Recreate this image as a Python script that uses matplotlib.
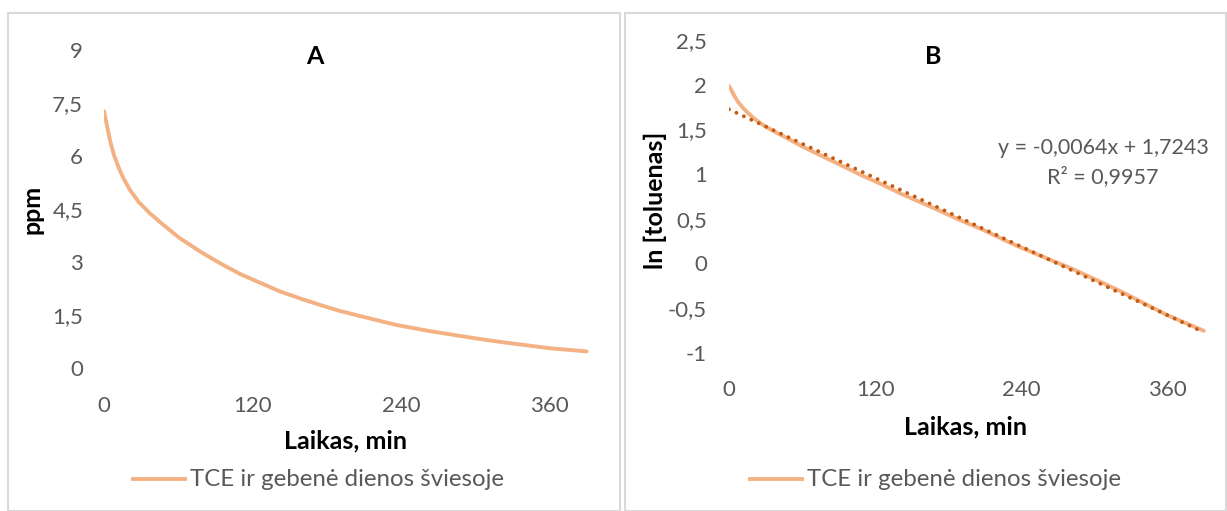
import numpy as np
import matplotlib
matplotlib.use("Agg")
import matplotlib.pyplot as plt
from matplotlib.patches import Rectangle
from matplotlib.ticker import FuncFormatter

# ---- data ----
time_min = [0, 2, 5, 8, 12, 16, 21, 28, 37, 48, 61, 78, 94, 110, 125, 142,
            160, 175, 190, 207, 236, 264, 282, 300, 322, 360, 390]
ppm = [7.27, 6.93, 6.42, 6.03, 5.66, 5.35, 5.04, 4.70, 4.38, 4.05, 3.68,
       3.29, 2.96, 2.66, 2.43, 2.17, 1.95, 1.78, 1.62, 1.47, 1.22, 1.04,
       0.94, 0.84, 0.73, 0.56, 0.47]
ln_toluene = list(np.log(ppm))
trend_slope = -0.0064
trend_intercept = 1.7243
trend_r2 = 0.9957

xticks = [0, 120, 240, 360]
yticks_a = [0, 1.5, 3, 4.5, 6, 7.5, 9]
yticks_b = [-1, -0.5, 0, 0.5, 1, 1.5, 2, 2.5]
series_name = "TCE ir gebenė dienos šviesoje"

W, H = 1227, 511
fig = plt.figure(figsize=(W / 100, H / 100), dpi=100)
plt.rcParams['font.family'] = ['Lato', 'DejaVu Sans']

CURVE = '#F4B183'
TREND = '#C55A11'
TICKC = '#595959'
TICK_FS = 16
LAB_FS = 18
LEG_FS = 17.3
EQ_FS = 15.5


def comma(v, pos):
    return ('%g' % v).replace('.', ',')


def px(x0, y0_top, w, h):
    return [x0 / W, (H - y0_top - h) / H, w / W, h / H]


# panel borders
for (x0, x1) in [(8, 620), (625, 1226)]:
    fig.patches.append(Rectangle((x0 / W, 0), (x1 - x0) / W, (H - 13) / H,
                                 transform=fig.transFigure, fill=False,
                                 edgecolor='#D9D9D9', lw=1.5))

# ---- Panel A ----
axA = fig.add_axes(px(104, 50, 495, 318))
axA.plot(time_min, ppm, color=CURVE, lw=2.8, solid_capstyle='round',
         solid_joinstyle='round')
axA.set_xlim(0, 400)
axA.set_ylim(0, 9)
axA.set_xticks(xticks)
axA.set_yticks(yticks_a)
axA.yaxis.set_major_formatter(FuncFormatter(comma))
for s in axA.spines.values():
    s.set_visible(False)
axA.tick_params(axis='both', length=0, labelsize=TICK_FS, colors=TICKC)
axA.tick_params(axis='y', pad=15)
axA.tick_params(axis='x', pad=20)
fig.text(315 / W, 1 - 57 / H, 'A', ha='center', va='center', fontsize=LAB_FS,
         fontweight='bold')
fig.text(345 / W, 1 - 441 / H, 'Laikas, min', ha='center', va='center',
         fontsize=LAB_FS, fontweight='bold')
fig.text(32 / W, 1 - 209 / H, 'ppm', ha='center', va='center', rotation=90,
         fontsize=LAB_FS, fontweight='bold')
fig.lines.append(plt.Line2D([133 / W, 185 / W], [1 - 479 / H] * 2,
                            transform=fig.transFigure, color=CURVE, lw=2.8))
fig.text(190 / W, 1 - 479 / H, series_name, ha='left', va='center',
         fontsize=LEG_FS, color=TICKC)

# ---- Panel B ----
axB = fig.add_axes(px(729, 40, 487, 312.7))
axB.plot(time_min, ln_toluene, color=CURVE, lw=2.8, solid_capstyle='round',
         solid_joinstyle='round')
tx = np.array([time_min[0], time_min[-1]])
axB.plot(tx, trend_slope * tx + trend_intercept, color=TREND, lw=2.8,
         linestyle=(0, (0.01, 2.1)), dash_capstyle='round')
axB.set_xlim(0, 400)
axB.set_ylim(-1, 2.5)
axB.set_xticks(xticks)
axB.set_yticks(yticks_b)
axB.yaxis.set_major_formatter(FuncFormatter(comma))
for s in axB.spines.values():
    s.set_visible(False)
axB.tick_params(axis='both', length=0, labelsize=TICK_FS, colors=TICKC)
axB.tick_params(axis='y', pad=16)
axB.tick_params(axis='x', pad=20)
fig.text(933 / W, 1 - 57 / H, 'B', ha='center', va='center', fontsize=LAB_FS,
         fontweight='bold')
fig.text(966 / W, 1 - 427 / H, 'Laikas, min', ha='center', va='center',
         fontsize=LAB_FS, fontweight='bold')
fig.text(655 / W, 1 - 200 / H, 'ln [toluenas]', ha='center', va='center',
         rotation=90, fontsize=LAB_FS, fontweight='bold')
eq = 'y = %sx + %s' % (('%g' % trend_slope).replace('.', ','),
                       ('%g' % trend_intercept).replace('.', ','))
fig.text(1103 / W, 1 - 148 / H, eq, ha='center', va='center', fontsize=EQ_FS,
         color=TICKC)
fig.text(1103 / W, 1 - 177 / H, 'R² = %s' % ('%g' % trend_r2).replace('.', ','),
         ha='center', va='center', fontsize=EQ_FS, color=TICKC)
fig.lines.append(plt.Line2D([750 / W, 802 / W], [1 - 479 / H] * 2,
                            transform=fig.transFigure, color=CURVE, lw=2.8))
fig.text(807 / W, 1 - 479 / H, series_name, ha='left', va='center',
         fontsize=LEG_FS, color=TICKC)

fig.savefig('out.png', dpi=100)
